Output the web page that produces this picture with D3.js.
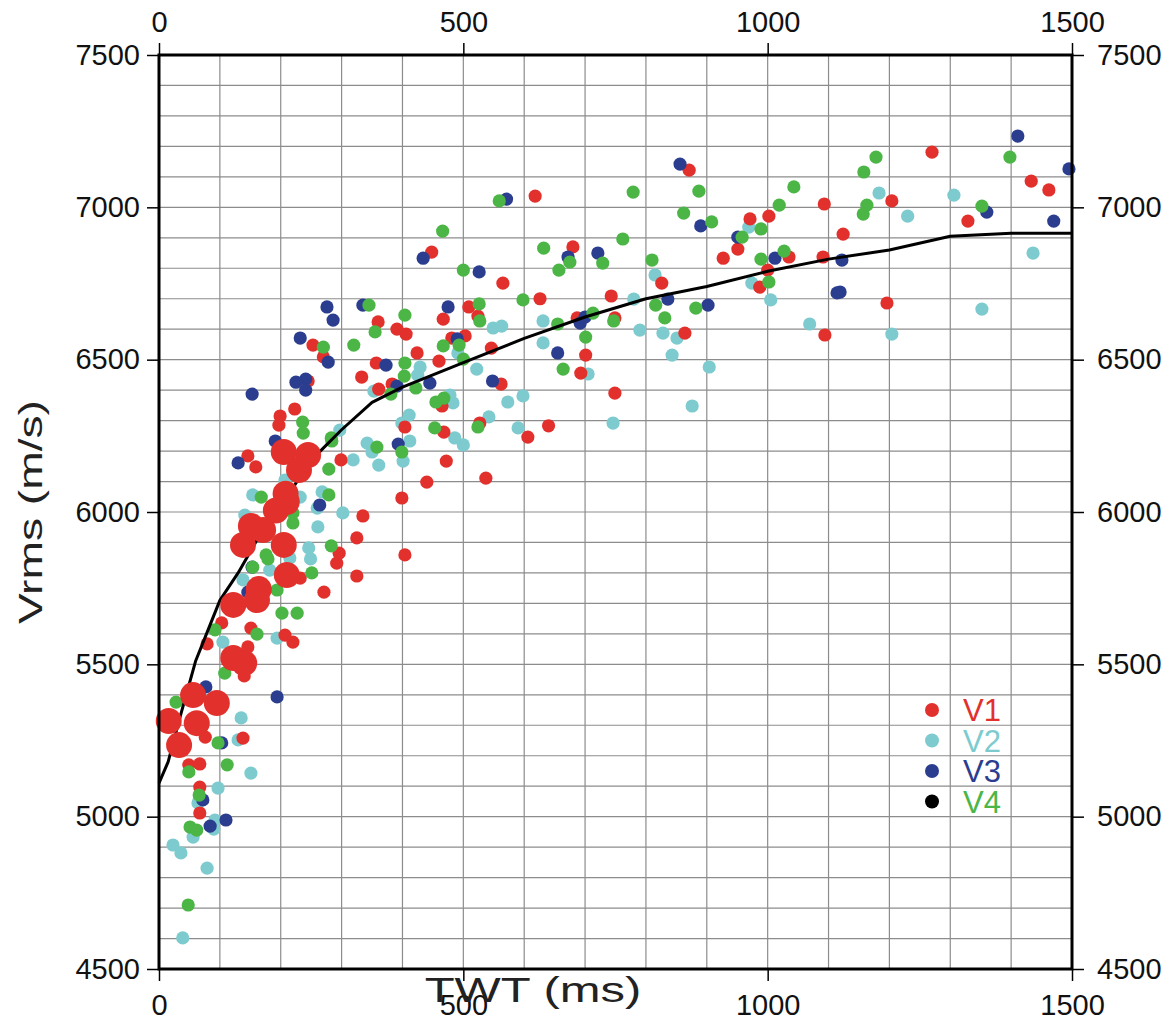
<!DOCTYPE html>
<html>
<head>
<meta charset="utf-8">
<script src="https://cdn.jsdelivr.net/npm/d3@7"></script>
<style>
  html, body { margin: 0; padding: 0; background: #ffffff; }
  svg { display: block; }
  text { font-family: "Liberation Sans", Arial, Helvetica, sans-serif; }
</style>
</head>
<body>
<svg id="chart" width="1173" height="1021"></svg>
<script>
// ---------- data (TWT ms, Vrms m/s) ----------
const xTicks = [0, 500, 1000, 1500];
const yTicks = [4500, 5000, 5500, 6000, 6500, 7000, 7500];
const seriesNames = ["V1", "V2", "V3", "V4"];

const trendLine = [[0,5110],[15,5180],[35,5330],[60,5510],[80,5610],[100,5710],[130,5800],[160,5905],[190,5975],[225,6095],[265,6200],[300,6270],[350,6360],[400,6410],[500,6490],[600,6570],[700,6640],[800,6700],[900,6740],[1000,6790],[1100,6830],[1200,6860],[1300,6905],[1400,6915],[1500,6915]];

const v1Small = [[1270,7181],[1433,7086],[1462,7057],[1204,7021],[1329,6955],[1124,6912],[1196,6686],
[871,7122],[1093,7011],[971,6962],[1002,6971],[618,7037],[680,6870],[826,6751],[927,6833],[951,6863],[1035,6837],[1091,6837],[1000,6794],[987,6738],[1094,6581],[626,6700],[743,6709],[687,6637],[749,6637],[701,6515],[693,6456],[864,6587],[749,6390],[640,6283],
[448,6853],[565,6751],[509,6673],[524,6643],[467,6633],[360,6624],[391,6600],[406,6584],[253,6548],[270,6509],[481,6571],[503,6578],[546,6538],[424,6522],[357,6489],[460,6495],[333,6443],[245,6430],[361,6403],[383,6420],[562,6420],[465,6348],[404,6279],[468,6262],[527,6292],[606,6246],
[223,6338],[199,6315],[197,6285],[146,6184],[159,6148],[299,6171],[399,6046],[440,6098],[472,6167],[537,6111],
[335,5987],[296,5865],[292,5832],[325,5915],[404,5859],[325,5790],[271,5737],[232,5783],[103,5636],[151,5619],[79,5567],[146,5557],[207,5596],[220,5573],[140,5462],[76,5261],[138,5258],
[49,5170],[67,5173],[67,5097],[67,5012]];

const v1Large = [[205,6197],[245,6187],[230,6138],[208,6060],[192,6005],[210,6033],[151,5954],[171,5941],[138,5892],[205,5892],[210,5793],[164,5747],[161,5711],[122,5695],[122,5521],[140,5504],[56,5399],[95,5373],[16,5314],[62,5307],[33,5235]];

const v2 = [[1183,7047],[1230,6971],[1306,7040],[1436,6850],[1352,6666],[1204,6584],
[815,6778],[969,6935],[974,6751],[1005,6696],[1069,6617],[780,6699],[631,6627],[631,6555],[705,6453],[790,6597],[828,6587],[851,6571],[843,6515],[904,6476],[876,6348],[746,6292],
[549,6604],[563,6610],[491,6522],[429,6476],[425,6449],[353,6397],[522,6469],[598,6381],[573,6361],[478,6384],[483,6358],[542,6312],[411,6318],[399,6292],[297,6269],[590,6276],
[319,6171],[342,6226],[350,6197],[361,6154],[401,6167],[412,6233],[486,6243],[500,6220],[154,6056],[268,6066],
[141,5990],[261,5951],[260,6013],[302,5997],[246,5882],[249,5846],[182,5809],[215,5849],[138,5777],[105,5573],[194,5586],[135,5324],[130,5252],[207,6105],[232,6049],
[151,5143],[97,5094],[64,5045],[92,4989],[90,4959],[56,4933],[23,4907],[36,4881],[79,4831],[39,4602]];

const v3 = [[1411,7234],[1495,7126],[1360,6984],[1470,6955],[1122,6827],[1119,6722],
[856,7142],[890,6939],[571,7027],[721,6850],[672,6837],[951,6902],[1012,6833],[1114,6719],[836,6699],[902,6679],[692,6620],[700,6640],[655,6522],
[434,6833],[526,6788],[276,6673],[335,6679],[286,6630],[475,6673],[232,6571],[278,6492],[490,6568],[373,6482],[445,6423],[241,6436],[241,6400],[391,6413],[548,6430],
[225,6426],[153,6387],[191,6233],[130,6161],[393,6223],
[264,6023],[153,5819],[146,5737],[77,5426],[194,5393],[103,5242],
[72,5055],[110,4989],[84,4969]];

const v4 = [[1398,7165],[1178,7165],[1158,7116],[1163,7007],[1157,6978],[1352,7004],
[779,7050],[887,7053],[1043,7067],[862,6981],[908,6952],[1019,7007],[989,6929],[958,6902],[559,7021],[466,6922],[762,6896],[632,6866],[675,6820],[657,6794],[729,6817],[810,6827],[989,6830],[1027,6856],[1002,6755],[816,6679],[831,6637],[882,6669],[655,6617],[713,6653],[747,6627],[701,6574],[664,6469],
[500,6794],[598,6696],[345,6679],[526,6683],[527,6627],[404,6646],[355,6591],[270,6541],[320,6548],[467,6545],[493,6548],[500,6502],[404,6489],[403,6446],[422,6407],[381,6387],[455,6361],[468,6374],[453,6276],[524,6279],[236,6295],[237,6259],[283,6243],
[279,6141],[284,6233],[358,6213],[399,6197],[168,6049],[279,6056],
[220,5997],[220,5964],[283,5889],[176,5859],[179,5846],[154,5819],[251,5800],[194,5744],[202,5668],[227,5668],[92,5613],[161,5599],[108,5471],[28,5376],[97,5242],
[49,5147],[112,5170],[66,5071],[51,4966],[62,4956],[48,4710]];

// ---------- styling ----------
const colors = { V1: "#e2312d", V2: "#7dcbcf", V3: "#2b3d8e", V4: "#4bb646" };
const legendDotColors = { V1: "#e2312d", V2: "#7dcbcf", V3: "#2b3d8e", V4: "#000000" };

const svg = d3.select("#chart");
const margin = { left: 159, top: 55, right: 101, bottom: 52 };
const W = 1173 - margin.left - margin.right;   // 913
const H = 1021 - margin.top - margin.bottom;   // 914

const x = d3.scaleLinear().domain([0, 1500]).range([0, W]);
const y = d3.scaleLinear().domain([4500, 7500]).range([H, 0]);

const g = svg.append("g").attr("transform", `translate(${margin.left},${margin.top})`);

// grid
g.append("g").selectAll("line").data(d3.range(0, 1501, 100)).join("line")
  .attr("x1", d => x(d)).attr("x2", d => x(d)).attr("y1", 0).attr("y2", H)
  .attr("stroke", "#8c8c8c").attr("stroke-width", 1.2);
g.append("g").selectAll("line").data(d3.range(4500, 7501, 100)).join("line")
  .attr("y1", d => y(d)).attr("y2", d => y(d)).attr("x1", 0).attr("x2", W)
  .attr("stroke", "#8c8c8c").attr("stroke-width", 1.2);

// dots
function dots(data, color, r) {
  g.append("g").selectAll("circle").data(data).join("circle")
    .attr("cx", d => x(d[0])).attr("cy", d => y(d[1])).attr("r", r)
    .attr("fill", color);
}
dots(v2, colors.V2, 6.6);
dots(v1Small, colors.V1, 6.6);
dots(v3, colors.V3, 6.6);
dots(v4, colors.V4, 6.6);

// trend line
g.append("path").datum(trendLine)
  .attr("d", d3.line().x(d => x(d[0])).y(d => y(d[1])))
  .attr("fill", "none").attr("stroke", "#000").attr("stroke-width", 3)
  .attr("stroke-linejoin", "round");

dots(v1Large, colors.V1, 13);

// frame
g.append("rect").attr("x", 0).attr("y", 0).attr("width", W).attr("height", H)
  .attr("fill", "none").attr("stroke", "#000").attr("stroke-width", 3);

// axes
function styleAxis(sel) {
  sel.select(".domain").remove();
  sel.selectAll(".tick line").attr("stroke", "#000").attr("stroke-width", 1.5);
  sel.selectAll(".tick text").attr("fill", "#111").style("font-size", "29px")
    .style("font-family", '"Liberation Sans", Arial, sans-serif');
}
g.append("g").attr("transform", `translate(0,${H})`)
  .call(d3.axisBottom(x).tickValues(xTicks).tickSize(12).tickPadding(13).tickFormat(d3.format("d")))
  .call(styleAxis);
g.append("g")
  .call(d3.axisTop(x).tickValues(xTicks).tickSize(12).tickPadding(11).tickFormat(d3.format("d")))
  .call(styleAxis);
g.append("g")
  .call(d3.axisLeft(y).tickValues(yTicks).tickSize(12).tickPadding(7).tickFormat(d3.format("d")))
  .call(styleAxis);
g.append("g").attr("transform", `translate(${W},0)`)
  .call(d3.axisRight(y).tickValues(yTicks).tickSize(12).tickPadding(13).tickFormat(d3.format("d")))
  .call(styleAxis);

// axis titles (wide face, like the original)
svg.append("text")
  .attr("transform", `translate(42,${margin.top + H / 2}) rotate(-90) scale(1.4,1)`)
  .attr("text-anchor", "middle").attr("fill", "#222")
  .style("font-size", "33px")
  .text("Vrms (m/s)");
svg.append("text")
  .attr("transform", `translate(533,1002) scale(1.4,1)`)
  .attr("text-anchor", "middle").attr("fill", "#222")
  .style("font-size", "35px")
  .text("TWT (ms)");

// legend
const legend = g.append("g").attr("transform", `translate(${x(1270)},${y(5350)})`);
seriesNames.forEach((name, i) => {
  const row = legend.append("g").attr("transform", `translate(0,${i * 30.5})`);
  row.append("circle").attr("cx", 0).attr("cy", 0).attr("r", 7).attr("fill", legendDotColors[name]);
  row.append("text").attr("x", 31).attr("y", 11)
    .attr("fill", colors[name]).style("font-size", "31px").text(name);
});
</script>
</body>
</html>
